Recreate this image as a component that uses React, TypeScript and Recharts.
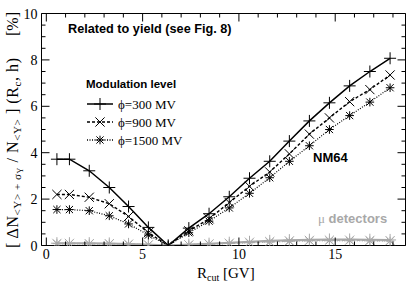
import React from 'react';
import { LineChart, Line, XAxis, YAxis } from 'recharts';

// ---- data ----
const rcut = [0.55, 1.2, 2.23, 3.27, 4.27, 5.3, 6.33, 7.4, 8.45, 9.5, 10.55, 11.6, 12.62, 13.66, 14.7, 15.75, 16.8, 17.85];
const nm300 = [3.72, 3.72, 3.22, 2.5, 1.68, 0.78, 0, 0.75, 1.37, 2.1, 2.9, 3.63, 4.5, 5.37, 6.15, 6.88, 7.5, 8.07];
const nm900 = [2.2, 2.2, 2.08, 1.8, 1.25, 0.55, 0, 0.63, 1.15, 1.85, 2.55, 3.17, 3.95, 4.8, 5.5, 6.2, 6.72, 7.35];
const nm1500 = [1.55, 1.55, 1.5, 1.28, 0.93, 0.45, 0, 0.55, 1.05, 1.62, 2.25, 2.92, 3.63, 4.3, 5.0, 5.6, 6.18, 6.8];
const mu300 = [0.1, 0.1, 0.1, 0.09, 0.07, 0.04, 0, 0.04, 0.08, 0.12, 0.16, 0.2, 0.23, 0.25, 0.26, 0.26, 0.25, 0.24];
const mu900 = [0.09, 0.09, 0.08, 0.08, 0.06, 0.03, 0, 0.03, 0.07, 0.1, 0.14, 0.17, 0.2, 0.22, 0.23, 0.23, 0.22, 0.21];
const mu1500 = [0.08, 0.08, 0.07, 0.07, 0.05, 0.03, 0, 0.03, 0.06, 0.09, 0.12, 0.15, 0.18, 0.2, 0.21, 0.21, 0.2, 0.19];

const xTicks = [0, 1, 2, 3, 4, 5, 6, 7, 8, 9, 10, 11, 12, 13, 14, 15, 16, 17, 18];
const yTicks = [0, 0.5, 1, 1.5, 2, 2.5, 3, 3.5, 4, 4.5, 5, 5.5, 6, 6.5, 7, 7.5, 8, 8.5, 9, 9.5, 10];
const legendLabels = ['\u03D5=300 MV', '\u03D5=900 MV', '\u03D5=1500 MV'];

const data = rcut.map((x, i) => ({
  x,
  nm300: nm300[i],
  nm900: nm900[i],
  nm1500: nm1500[i],
  mu300: mu300[i],
  mu900: mu900[i],
  mu1500: mu1500[i],
}));

const SERIF = '"Liberation Serif", "DejaVu Serif", serif';
const SANS = '"Liberation Sans", Arial, sans-serif';
const GRAY = '#a8a8a8';

type Kind = 'plus' | 'cross' | 'star';

function MarkerShape({ cx, cy, kind, color }: { cx: number; cy: number; kind: Kind; color: string }) {
  if (cx == null || cy == null || isNaN(cx) || isNaN(cy)) return null;
  const p = 6;
  const c = 4.6;
  const s = 4.3;
  const sc = 3.6;
  if (kind === 'plus') {
    return (
      <g stroke={color} strokeWidth={1} fill="none">
        <line x1={cx - p} x2={cx + p} y1={cy} y2={cy} />
        <line x1={cx} x2={cx} y1={cy - p} y2={cy + p} />
      </g>
    );
  }
  if (kind === 'cross') {
    return (
      <g stroke={color} strokeWidth={1} fill="none">
        <line x1={cx - c} x2={cx + c} y1={cy - c} y2={cy + c} />
        <line x1={cx - c} x2={cx + c} y1={cy + c} y2={cy - c} />
      </g>
    );
  }
  return (
    <g stroke={color} strokeWidth={1} fill="none">
      <line x1={cx - s} x2={cx + s} y1={cy} y2={cy} />
      <line x1={cx} x2={cx} y1={cy - s} y2={cy + s} />
      <line x1={cx - sc} x2={cx + sc} y1={cy - sc} y2={cy + sc} />
      <line x1={cx - sc} x2={cx + sc} y1={cy + sc} y2={cy - sc} />
    </g>
  );
}

const dotFor = (kind: Kind, color: string) => (props: any) => (
  <MarkerShape key={`${kind}-${color}-${props.index}`} cx={props.cx} cy={props.cy} kind={kind} color={color} />
);

const BottomTick = (props: any) => {
  const x = Number(props.x);
  const y = Number(props.y);
  const v = Number(props.payload.value);
  const major = v % 5 === 0;
  const len = major ? 8 : 4;
  return (
    <g>
      <path d={`M${x},${y}V${y - len}`} stroke="#000" strokeWidth={1} fill="none" />
      {major && (
        <text x={x} y={y + 13} textAnchor="middle" fontFamily={SERIF} fontSize={14} fill="#000" stroke="none">
          {v}
        </text>
      )}
    </g>
  );
};

const TopTick = (props: any) => {
  const x = Number(props.x);
  const y = Number(props.y);
  const major = Number(props.payload.value) % 5 === 0;
  const len = major ? 8 : 4;
  return <path d={`M${x},${y}V${y + len}`} stroke="#000" strokeWidth={1} fill="none" />;
};

const LeftTick = (props: any) => {
  const x = Number(props.x);
  const y = Number(props.y);
  const v = Number(props.payload.value);
  const major = v % 2 === 0;
  const len = major ? 8 : 4;
  return (
    <g>
      <path d={`M${x},${y}H${x + len}`} stroke="#000" strokeWidth={1} fill="none" />
      {major && (
        <text x={x - 4} y={y + 5} textAnchor="end" fontFamily={SERIF} fontSize={14} fill="#000" stroke="none">
          {v}
        </text>
      )}
    </g>
  );
};

const RightTick = (props: any) => {
  const x = Number(props.x);
  const y = Number(props.y);
  const major = Number(props.payload.value) % 2 === 0;
  const len = major ? 8 : 4;
  return <path d={`M${x},${y}H${x - len}`} stroke="#000" strokeWidth={1} fill="none" />;
};

const legendRows: { kind: Kind; dash?: string; y: number; label: string }[] = [
  { kind: 'plus', y: 104, label: legendLabels[0] },
  { kind: 'cross', dash: '3 2', y: 122, label: legendLabels[1] },
  { kind: 'star', dash: '1 1.5', y: 140, label: legendLabels[2] },
];

const axisCommon = {
  tickSize: 0,
  tickMargin: 0,
  tickLine: false,
  interval: 0 as const,
  allowDataOverflow: true,
  stroke: '#000',
  axisLine: { stroke: '#000', strokeWidth: 1 },
};

export default function App() {
  return (
    <div style={{ position: 'absolute', left: 0, top: 0, width: 415, height: 283, background: '#fff' }}>
      <LineChart
        width={415}
        height={283}
        data={data}
        margin={{ top: 12.5, right: 8.5, bottom: 36.5, left: 0.5 }}
      >
        <XAxis
          xAxisId="b"
          dataKey="x"
          type="number"
          orientation="bottom"
          domain={[-0.25, 18.65]}
          ticks={xTicks}
          height={1}
          tick={<BottomTick />}
          {...axisCommon}
        />
        <XAxis
          xAxisId="t"
          dataKey="x"
          type="number"
          orientation="top"
          domain={[-0.25, 18.65]}
          ticks={xTicks}
          height={1}
          tick={<TopTick />}
          {...axisCommon}
        />
        <YAxis
          yAxisId="l"
          type="number"
          orientation="left"
          domain={[0, 10]}
          ticks={yTicks}
          width={41}
          tick={<LeftTick />}
          {...axisCommon}
        />
        <YAxis
          yAxisId="r"
          type="number"
          orientation="right"
          domain={[0, 10]}
          ticks={yTicks}
          width={1}
          tick={<RightTick />}
          {...axisCommon}
        />
        <Line xAxisId="b" yAxisId="l" dataKey="mu1500" type="linear" stroke={GRAY} strokeWidth={1.5} strokeDasharray="1 1.5" dot={dotFor('star', GRAY)} isAnimationActive={false} />
        <Line xAxisId="b" yAxisId="l" dataKey="mu900" type="linear" stroke={GRAY} strokeWidth={1.5} strokeDasharray="3 2" dot={dotFor('cross', GRAY)} isAnimationActive={false} />
        <Line xAxisId="b" yAxisId="l" dataKey="mu300" type="linear" stroke={GRAY} strokeWidth={2} dot={dotFor('plus', GRAY)} isAnimationActive={false} />
        <Line xAxisId="b" yAxisId="l" dataKey="nm1500" type="linear" stroke="#000" strokeWidth={1.2} strokeDasharray="1 1.5" dot={dotFor('star', '#000')} isAnimationActive={false} />
        <Line xAxisId="b" yAxisId="l" dataKey="nm900" type="linear" stroke="#000" strokeWidth={1.4} strokeDasharray="3 2" dot={dotFor('cross', '#000')} isAnimationActive={false} />
        <Line xAxisId="b" yAxisId="l" dataKey="nm300" type="linear" stroke="#000" strokeWidth={1.5} dot={dotFor('plus', '#000')} isAnimationActive={false} />
      </LineChart>
      <svg
        width={415}
        height={283}
        style={{ position: 'absolute', left: 0, top: 0, pointerEvents: 'none' }}
      >
        <text x={68} y={33} fontFamily={SANS} fontWeight="bold" fontSize={12.7} fill="#000">
          Related to yield (see Fig. 8)
        </text>
        <text x={86} y={88} fontFamily={SANS} fontWeight="bold" fontSize={11.5} fill="#000">
          Modulation level
        </text>
        {legendRows.map((r, i) => (
          <g key={i}>
            <line x1={87} x2={113} y1={r.y} y2={r.y} stroke="#000" strokeWidth={i === 0 ? 1.5 : 1.3} strokeDasharray={r.dash} />
            <MarkerShape cx={100} cy={r.y} kind={r.kind} color="#000" />
            <text x={118} y={r.y + 4.5} fontFamily={SERIF} fontSize={13} fill="#000">
              {r.label}
            </text>
          </g>
        ))}
        <text x={313} y={162} fontFamily={SANS} fontWeight="bold" fontSize={13} fill="#000">
          NM64
        </text>
        <text x={318} y={223} fontSize={13} fill={GRAY}>
          <tspan fontFamily={SERIF}>{'\u03BC'}</tspan>
          <tspan fontFamily={SANS} fontWeight="bold">{' detectors'}</tspan>
        </text>
        <text x={197} y={278} fontFamily={SERIF} fontSize={15} fill="#000">
          R<tspan fontSize={10} dy={3}>cut</tspan>
          <tspan dy={-3}>{'  [GV]'}</tspan>
        </text>
        <text
          x={18}
          y={248}
          transform="rotate(-90 18 248)"
          fontFamily={SERIF}
          fontSize={16}
          fill="#000"
          textLength={190}
          lengthAdjust="spacing"
        >
          {'[ \u0394N'}
          <tspan fontSize={11} dy={3}>{'<Y> + \u03C3'}</tspan>
          <tspan fontSize={8} dy={2}>Y</tspan>
          <tspan fontSize={16} dy={-5}>{' / N'}</tspan>
          <tspan fontSize={11} dy={3}>{'<Y>'}</tspan>
          <tspan fontSize={16} dy={-3}>{' ] (R'}</tspan>
          <tspan fontSize={11} dy={3}>c</tspan>
          <tspan fontSize={16} dy={-3}>{', h)'}</tspan>
        </text>
        <text x={18} y={36} transform="rotate(-90 18 36)" fontFamily={SERIF} fontSize={16} fill="#000">
          [%]
        </text>
      </svg>
    </div>
  );
}
